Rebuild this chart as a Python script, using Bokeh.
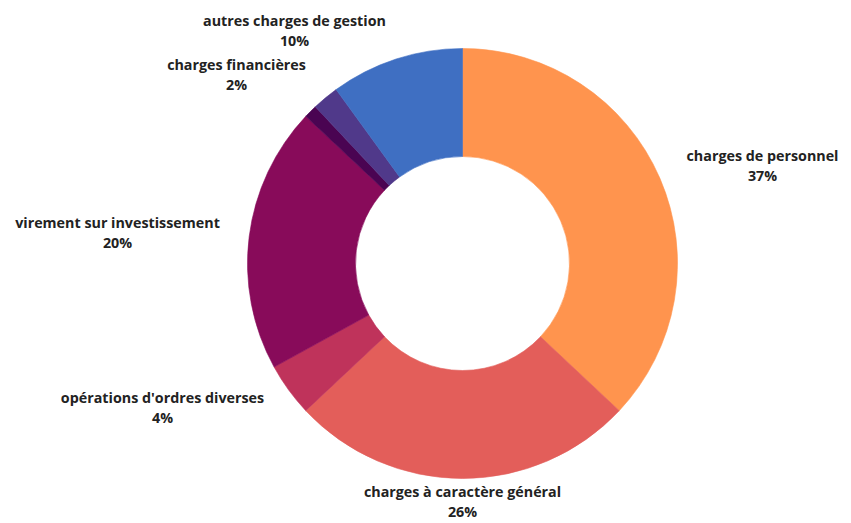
import math
from bokeh.plotting import figure
from bokeh.models import Range1d, ColumnDataSource
from bokeh.core.properties import value
from bokeh.embed import file_html
from bokeh.resources import INLINE

# data (clockwise from top)
categories = ["charges de personnel", "charges à caractère général",
              "opérations d'ordres diverses", "virement sur investissement",
              "", "charges financières", "autres charges de gestion"]
values = [37, 26, 4, 20, 1, 2, 10]
colors = ["#FF944E", "#E35E5A", "#BF335B", "#880B5A", "#4A0452", "#50398A", "#3F6FC2"]

# layout
W, H = 851, 523
cx, cy = 462, H - 263
r_out, r_in = 215, 107
# label anchor points (pixels from top-left of plot): centre of text block
label_pos = [(762, 165), (462, 501), (162, 407), (117, 232), None, (236, 74), (294, 30)]
line_gap = 19.5

total = sum(values)
starts, ends = [], []
acc = 0.0
for v in values:
    a0 = math.pi / 2 - acc / total * 2 * math.pi
    acc += v
    a1 = math.pi / 2 - acc / total * 2 * math.pi
    starts.append(a0)
    ends.append(a1)

src = ColumnDataSource(dict(start=starts, end=ends, color=colors,
                            x=[cx] * len(values), y=[cy] * len(values)))

p = figure(width=W, height=H, output_backend="svg", toolbar_location=None,
           x_range=Range1d(0, W), y_range=Range1d(0, H), min_border=0)
p.axis.visible = False
p.grid.visible = False
p.outline_line_color = None
p.background_fill_color = "white"

p.annular_wedge(x="x", y="y", inner_radius=r_in, outer_radius=r_out,
                start_angle="start", end_angle="end", direction="clock",
                fill_color="color", line_color="color", line_width=0.6, source=src)

nx, ny, nt, px, py, pt = [], [], [], [], [], []
for cat, v, pos in zip(categories, values, label_pos):
    if pos is None or not cat:
        continue
    nx.append(pos[0]); ny.append(H - (pos[1] - line_gap / 2)); nt.append(cat)
    px.append(pos[0]); py.append(H - (pos[1] + line_gap / 2)); pt.append(f"{v}%")

for xs, ys, ts in ((nx, ny, nt), (px, py, pt)):
    p.text(x=xs, y=ys, text=ts, text_align="center", text_baseline="middle",
           text_font=value("Open Sans"), text_font_style="bold",
           text_font_size="14.3px", text_color="#222222")

open("out.html", "w").write(file_html(p, INLINE))
